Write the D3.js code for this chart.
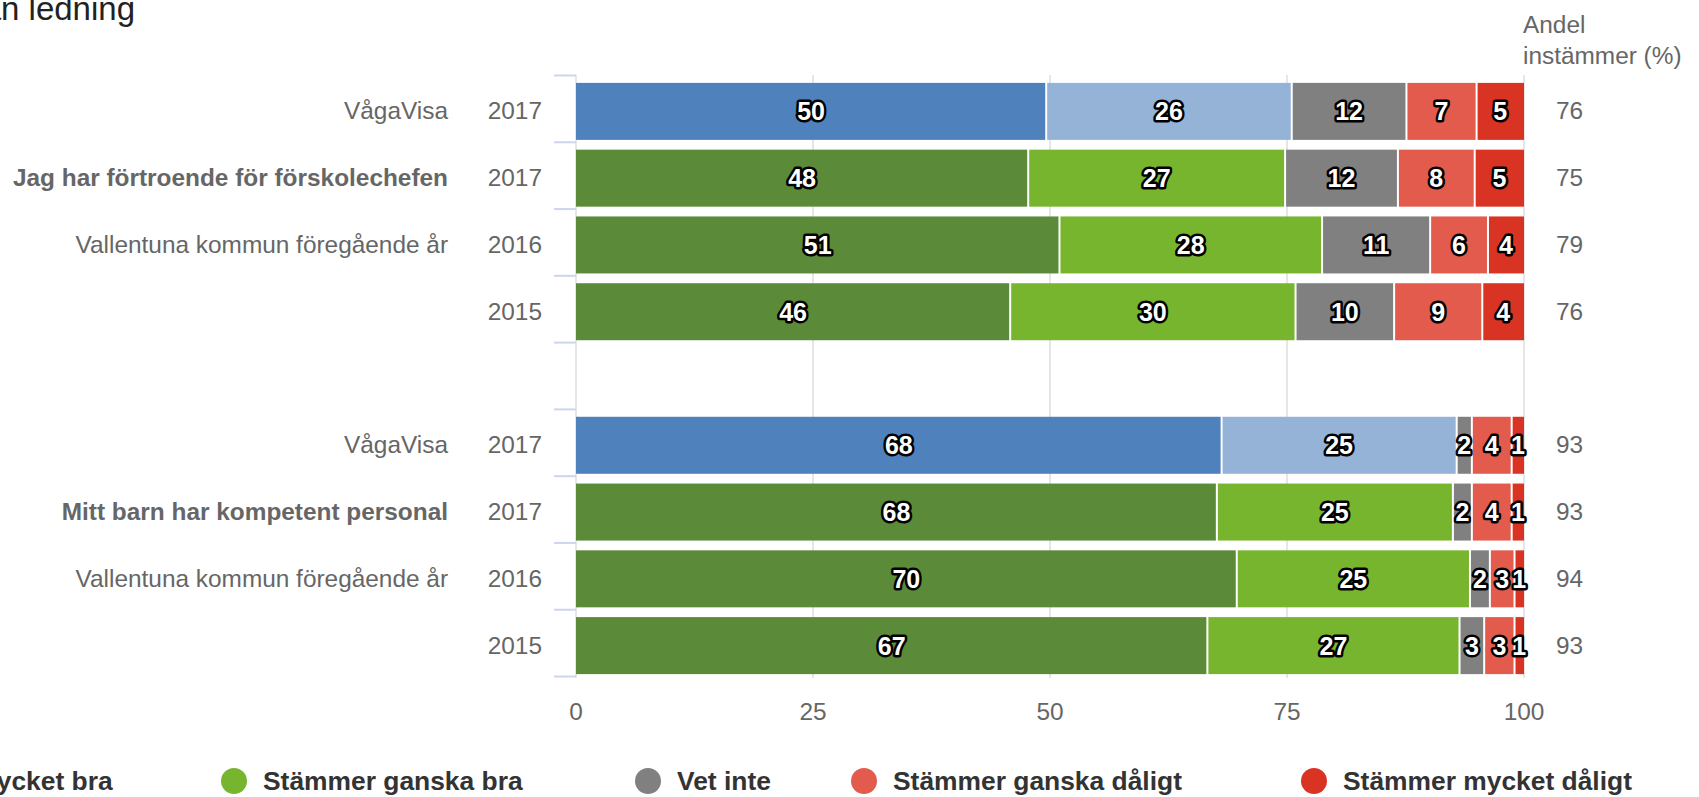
<!DOCTYPE html>
<html>
<head>
<meta charset="utf-8">
<script src="https://cdn.jsdelivr.net/npm/d3@7"></script>
<style>
  body { margin: 0; background: #fff; overflow: hidden; }
  text { font-family: "Liberation Sans", Arial, Helvetica, sans-serif; }
</style>
</head>
<body>
<script>

// categories (one per bar row, empty row separates the two questions)
var questions = ["VågaVisa", "Jag har förtroende för förskolechefen", "Vallentuna kommun föregående år", "",
                 "",
                 "VågaVisa", "Mitt barn har kompetent personal", "Vallentuna kommun föregående år", ""];
var years = ["2017", "2017", "2016", "2015", "", "2017", "2017", "2016", "2015"];
var boldRows = [1, 6];
var vagaVisaRows = [0, 5];

var seriesNames = ["Stämmer mycket bra", "Stämmer ganska bra", "Vet inte", "Stämmer ganska dåligt", "Stämmer mycket dåligt"];

// percentages
var mycketBra    = [49.6, 47.7, 51.0, 45.8, null, 68.1, 67.6, 69.7, 66.6];
var ganskaBra    = [25.9, 27.1, 27.7, 30.1, null, 24.8, 24.9, 24.6, 26.6];
var vetInte      = [12.1, 11.9, 11.4, 10.4, null, 1.6, 2.0, 2.1, 2.6];
var ganskaDaligt = [7.4, 8.1, 6.1, 9.3, null, 4.2, 4.2, 2.6, 3.2];
var mycketDaligt = [5.0, 5.2, 3.8, 4.4, null, 1.3, 1.3, 1.0, 1.0];

var andelInstammer = [76, 75, 79, 76, null, 93, 93, 94, 93];

var xTicks = [0, 25, 50, 75, 100];

var seriesColors = ["#5b8b39", "#78b52f", "#808080", "#e35b4d", "#d93323"];
var vagaVisaColors = ["#4f81bd", "#95b3d7"];

var width = 1699, height = 797;
var plot = {left: 576, right: 1524, top: 77, bottom: 678};

var svg = d3.select("body").append("svg")
    .attr("width", width)
    .attr("height", height);

var xScale = d3.scaleLinear()
    .domain([0, 100])
    .range([plot.left, plot.right]);

var rows = d3.range(questions.length);

var yScale = d3.scaleBand()
    .domain(rows)
    .range([plot.top, plot.bottom]);

var barHeight = 57;

// title (runs off the left edge like the original)
svg.append("text")
    .attr("x", 135)
    .attr("y", 20)
    .attr("text-anchor", "end")
    .attr("font-size", "33px")
    .attr("fill", "#222")
    .text("Förtroende för personal och förskolan ledning");

// grid lines
svg.append("g")
    .selectAll("line")
    .data(xTicks)
    .enter().append("line")
    .attr("x1", d => xScale(d))
    .attr("x2", d => xScale(d))
    .attr("y1", plot.top - 2)
    .attr("y2", plot.bottom)
    .attr("stroke", "#e6e6e6")
    .attr("stroke-width", 2);

// category tick marks on the left
var tickYs = rows.map(r => yScale(r)).concat([plot.bottom]);
svg.append("g")
    .selectAll("line")
    .data(tickYs)
    .enter().append("line")
    .attr("x1", plot.left - 22)
    .attr("x2", plot.left)
    .attr("y1", d => d - 1.5)
    .attr("y2", d => d - 1.5)
    .attr("stroke", "#ccd6eb")
    .attr("stroke-width", 2);

// stacked bars
var table = rows.map(i => ({
    row: i,
    s0: mycketBra[i] || 0,
    s1: ganskaBra[i] || 0,
    s2: vetInte[i] || 0,
    s3: ganskaDaligt[i] || 0,
    s4: mycketDaligt[i] || 0
})).filter(d => mycketBra[d.row] != null);

var keys = ["s0", "s1", "s2", "s3", "s4"];
var stacked = d3.stack().keys(keys)(table);

function barColor(seriesIndex, row) {
    if (seriesIndex < 2 && vagaVisaRows.indexOf(row) >= 0) return vagaVisaColors[seriesIndex];
    return seriesColors[seriesIndex];
}

stacked.forEach((layer, si) => {
    var g = svg.append("g");

    g.selectAll("rect")
        .data(layer)
        .enter().append("rect")
        .attr("x", d => xScale(d[0]) + (d[0] > 0 ? 1 : 0))
        .attr("width", d => xScale(d[1]) - xScale(d[0]) - (d[0] > 0 ? 1 : 0) - (d[1] < 99.99 ? 1 : 0))
        .attr("y", d => yScale(d.data.row) + yScale.bandwidth() / 2 - barHeight / 2 + 1)
        .attr("height", barHeight)
        .attr("fill", d => barColor(si, d.data.row));

    g.selectAll("text")
        .data(layer)
        .enter().append("text")
        .attr("x", d => xScale((d[0] + d[1]) / 2))
        .attr("y", d => yScale(d.data.row) + yScale.bandwidth() / 2 + 10)
        .attr("text-anchor", "middle")
        .attr("font-size", "25px")
        .attr("font-weight", "bold")
        .attr("fill", "#fff")
        .attr("stroke", "#000")
        .attr("stroke-width", 5)
        .attr("stroke-linejoin", "round")
        .attr("paint-order", "stroke")
        .text(d => Math.round(d[1] - d[0]));
});

// category labels
var labels = svg.append("g");
rows.forEach(i => {
    var cy = yScale(i) + yScale.bandwidth() / 2 + 9;
    labels.append("text")
        .attr("x", 448)
        .attr("y", cy)
        .attr("text-anchor", "end")
        .attr("font-size", "24.4px")
        .attr("font-weight", boldRows.indexOf(i) >= 0 ? "bold" : "normal")
        .attr("fill", "#666")
        .text(questions[i]);

    labels.append("text")
        .attr("x", 542)
        .attr("y", cy)
        .attr("text-anchor", "end")
        .attr("font-size", "24.4px")
        .attr("fill", "#666")
        .text(years[i]);

    if (andelInstammer[i] != null) {
        labels.append("text")
            .attr("x", 1556)
            .attr("y", cy)
            .attr("font-size", "24.4px")
            .attr("fill", "#666")
            .text(andelInstammer[i]);
    }
});

// right column header
var header = svg.append("text")
    .attr("x", 1523)
    .attr("font-size", "24.4px")
    .attr("fill", "#666");
header.append("tspan").attr("x", 1523).attr("y", 33).text("Andel");
header.append("tspan").attr("x", 1523).attr("y", 64).text("instämmer (%)");

// x axis labels
svg.append("g")
    .selectAll("text")
    .data(xTicks)
    .enter().append("text")
    .attr("x", d => xScale(d))
    .attr("y", 720)
    .attr("text-anchor", "middle")
    .attr("font-size", "24.4px")
    .attr("fill", "#666")
    .text(d => d);

// legend
var legendX = [-176, 234, 648, 864, 1314];
var legend = svg.append("g");
seriesNames.forEach((name, i) => {
    legend.append("circle")
        .attr("cx", legendX[i])
        .attr("cy", 781)
        .attr("r", 13)
        .attr("fill", seriesColors[i]);

    legend.append("text")
        .attr("x", legendX[i] + 29)
        .attr("y", 790)
        .attr("font-size", "26.4px")
        .attr("font-weight", "bold")
        .attr("fill", "#333")
        .text(name);
});

</script>
</body>
</html>
